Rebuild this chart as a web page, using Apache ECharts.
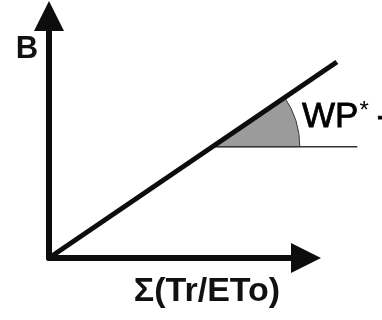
<!DOCTYPE html>
<html>
<head>
<meta charset="utf-8">
<script src="https://cdn.jsdelivr.net/npm/echarts@6/dist/echarts.min.js"></script>
<style>
  html, body { margin: 0; padding: 0; background: #fff; }
  #chart { width: 382px; height: 320px; }
</style>
</head>
<body>
<div id="chart"></div>
<script>
  // biomass vs cumulative normalized transpiration
  var lineB = [[0, 0], [11.2, 8.1]];
  var refLine = [[6.36, 4.6], [12.0, 4.6]];
  var wedge = [[6.36, 4.6, 3.4]];
  var yName = 'B';
  var xName = 'Σ(Tr/ETo)';
  var slopeName = 'WP';

  var chart = echarts.init(document.getElementById('chart'));
  var font = '"Liberation Sans", Arial, sans-serif';

  var axisCommon = {
    type: 'value',
    min: 0,
    max: 10,
    axisLine: {
      show: true,
      symbol: ['none', 'triangle'],
      symbolSize: [30, 30],
      lineStyle: { color: '#0d0d0d', width: 6 }
    },
    axisTick: { show: false },
    axisLabel: { show: false },
    splitLine: { show: false }
  };

  // line through all points of a series, not clipped to the grid
  function pathSeries(points, color, width, z) {
    return {
      type: 'custom',
      z: z,
      clip: false,
      renderItem: function (params, api) {
        if (params.dataIndex !== 0) return;
        var pts = points.map(function (p) { return api.coord(p); });
        return {
          type: 'polyline',
          shape: { points: pts },
          style: { stroke: color, lineWidth: width, fill: null }
        };
      },
      data: points
    };
  }

  chart.setOption({
    animation: false,
    grid: { left: 49, right: 76, top: 16, bottom: 62 },
    xAxis: axisCommon,
    yAxis: axisCommon,
    series: [
      {
        type: 'custom',
        z: 1,
        clip: false,
        renderItem: function (params, api) {
          var c = api.coord([api.value(0), api.value(1)]);
          var r = api.size([api.value(2), 0])[0];
          var p0 = api.coord(lineB[0]);
          var p1 = api.coord(lineB[1]);
          var ang = Math.atan2(p1[1] - p0[1], p1[0] - p0[0]);
          return {
            type: 'sector',
            shape: { cx: c[0], cy: c[1], r: r, r0: 0, startAngle: ang, endAngle: 0, clockwise: true },
            style: { fill: '#9b9b9b', stroke: '#3a3a3a', lineWidth: 1 }
          };
        },
        data: wedge
      },
      pathSeries(refLine, '#333', 1.5, 2),
      pathSeries(lineB, '#0d0d0d', 5, 3)
    ],
    graphic: [
      {
        type: 'text', x: 27, y: 49,
        style: { text: yName, font: 'bold 31px ' + font, fill: '#111', align: 'center', verticalAlign: 'middle' }
      },
      {
        type: 'text', x: 207, y: 292,
        style: { text: xName, font: 'bold 34px ' + font, fill: '#111', align: 'center', verticalAlign: 'middle' }
      },
      {
        type: 'text', x: 302, y: 117,
        style: {
          text: '{a|' + slopeName + '}{b|*}{a|-}',
          align: 'left',
          verticalAlign: 'middle',
          rich: {
            a: { font: '35px ' + font, fill: '#000', stroke: '#000', lineWidth: 0.8 },
            b: { font: '24px ' + font, fill: '#000', verticalAlign: 'top', padding: [0, 8, 10, 1] }
          }
        }
      }
    ]
  });
</script>
</body>
</html>
